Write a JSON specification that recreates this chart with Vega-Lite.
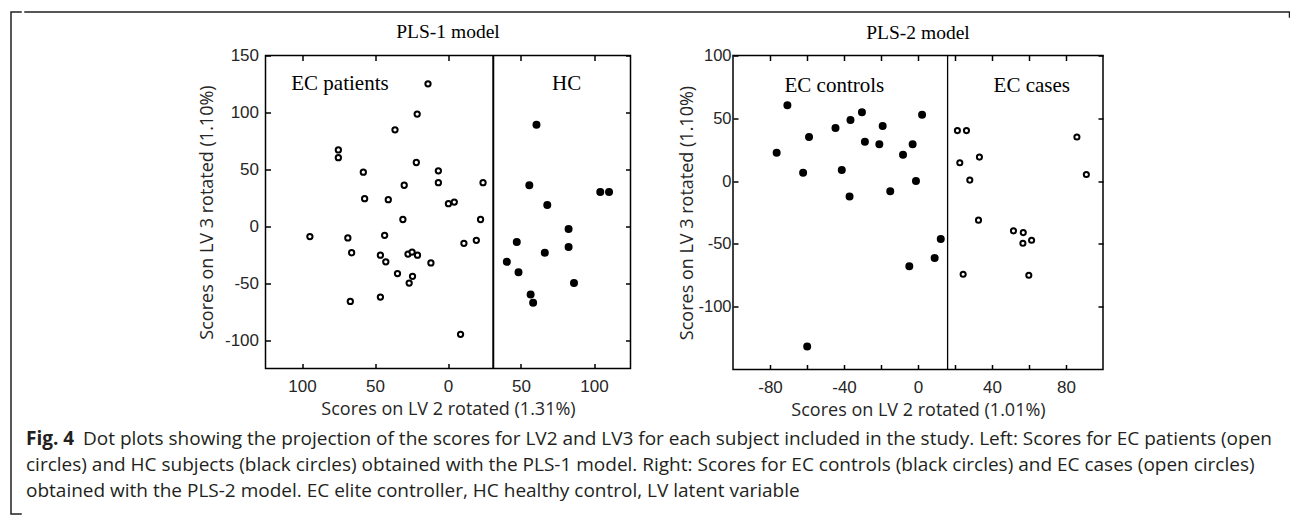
{
  "$schema": "https://vega.github.io/schema/vega-lite/v6.json",
  "padding": {"left": 9, "top": 10, "right": 0, "bottom": 0},
  "background": "white",
  "config": {
    "view": {"stroke": null},
    "axis": {"grid": false, "domain": false, "ticks": true, "tickSize": -5, "tickWidth": 1.5, "tickColor": "#000", "labelFont": "Liberation Sans", "labelFontSize": 17, "labelColor": "#262626", "titleFont": "Open Sans", "titleFontSize": 18, "titleFontWeight": "normal", "titleColor": "#262626"}
  },
  "datasets": {
    "pls1": [
      {"g": "EC patients", "x": -13.7, "y": 125.1}, {"g": "EC patients", "x": -21.1, "y": 98.5}, {"g": "EC patients", "x": -36.3, "y": 84.7},
      {"g": "EC patients", "x": -75.1, "y": 67}, {"g": "EC patients", "x": -75.1, "y": 60.2}, {"g": "EC patients", "x": -21.7, "y": 56},
      {"g": "EC patients", "x": -58, "y": 47.5}, {"g": "EC patients", "x": -6.6, "y": 48.7}, {"g": "EC patients", "x": -6.6, "y": 38.3},
      {"g": "EC patients", "x": -30, "y": 36}, {"g": "EC patients", "x": 24, "y": 38.3}, {"g": "EC patients", "x": -57.1, "y": 24.2},
      {"g": "EC patients", "x": -40.9, "y": 23.3}, {"g": "EC patients", "x": 0.3, "y": 19.8}, {"g": "EC patients", "x": 4.3, "y": 21.2},
      {"g": "EC patients", "x": -30.9, "y": 5.9}, {"g": "EC patients", "x": 22.3, "y": 5.9}, {"g": "EC patients", "x": -94.6, "y": -9.1},
      {"g": "EC patients", "x": -68.6, "y": -10.3}, {"g": "EC patients", "x": -43.4, "y": -8}, {"g": "EC patients", "x": 19.4, "y": -12.4},
      {"g": "EC patients", "x": 10.9, "y": -15}, {"g": "EC patients", "x": -66, "y": -23.3}, {"g": "EC patients", "x": -46.3, "y": -25.4},
      {"g": "EC patients", "x": -27.4, "y": -24.5}, {"g": "EC patients", "x": -24.6, "y": -22.7}, {"g": "EC patients", "x": -20.9, "y": -25.4},
      {"g": "EC patients", "x": -42.6, "y": -31.3}, {"g": "EC patients", "x": -11.7, "y": -32.2}, {"g": "EC patients", "x": -34.6, "y": -41.6},
      {"g": "EC patients", "x": -24.3, "y": -44}, {"g": "EC patients", "x": -26.6, "y": -49.9}, {"g": "EC patients", "x": -46.3, "y": -62.2},
      {"g": "EC patients", "x": -66.9, "y": -66.1}, {"g": "EC patients", "x": 8.6, "y": -95},
      {"g": "HC", "x": 60.6, "y": 89.1}, {"g": "HC", "x": 55.7, "y": 36}, {"g": "HC", "x": 104.3, "y": 30.1},
      {"g": "HC", "x": 110.3, "y": 30.1}, {"g": "HC", "x": 68, "y": 18.6}, {"g": "HC", "x": 82.6, "y": -2.4},
      {"g": "HC", "x": 47.1, "y": -13.9}, {"g": "HC", "x": 82.6, "y": -18.3}, {"g": "HC", "x": 66.3, "y": -23.3},
      {"g": "HC", "x": 40.3, "y": -31.3}, {"g": "HC", "x": 48.3, "y": -40.4}, {"g": "HC", "x": 86.3, "y": -49.9},
      {"g": "HC", "x": 56.6, "y": -59.9}, {"g": "HC", "x": 58.3, "y": -67.3}
    ],
    "pls2": [
      {"g": "EC controls", "x": -70.6, "y": 60.4}, {"g": "EC controls", "x": -76.4, "y": 22.6}, {"g": "EC controls", "x": -58.9, "y": 35.1},
      {"g": "EC controls", "x": -62.1, "y": 6.6}, {"g": "EC controls", "x": -44.6, "y": 42.3}, {"g": "EC controls", "x": -36.5, "y": 48.7},
      {"g": "EC controls", "x": -30.3, "y": 54.8}, {"g": "EC controls", "x": -41.2, "y": 8.8}, {"g": "EC controls", "x": -37, "y": -12.2},
      {"g": "EC controls", "x": -28.7, "y": 31.4}, {"g": "EC controls", "x": -19.1, "y": 43.9}, {"g": "EC controls", "x": -20.9, "y": 29.3},
      {"g": "EC controls", "x": -8.1, "y": 21}, {"g": "EC controls", "x": -2.9, "y": 29.3}, {"g": "EC controls", "x": 2.2, "y": 52.9},
      {"g": "EC controls", "x": -15, "y": -8}, {"g": "EC controls", "x": -1.1, "y": 0}, {"g": "EC controls", "x": 12.3, "y": -46},
      {"g": "EC controls", "x": 9, "y": -61.2}, {"g": "EC controls", "x": -4.7, "y": -67.8}, {"g": "EC controls", "x": -59.9, "y": -131.6},
      {"g": "EC cases", "x": 21.3, "y": 40.2}, {"g": "EC cases", "x": 26.2, "y": 40.2}, {"g": "EC cases", "x": 22.6, "y": 14.6},
      {"g": "EC cases", "x": 33.2, "y": 19.1}, {"g": "EC cases", "x": 28, "y": 0.8}, {"g": "EC cases", "x": 32.7, "y": -31.1},
      {"g": "EC cases", "x": 51.6, "y": -39.6}, {"g": "EC cases", "x": 56.9, "y": -41}, {"g": "EC cases", "x": 56.7, "y": -49.5},
      {"g": "EC cases", "x": 61.4, "y": -47.1}, {"g": "EC cases", "x": 24.4, "y": -74.2}, {"g": "EC cases", "x": 59.9, "y": -75},
      {"g": "EC cases", "x": 85.9, "y": 35.1}, {"g": "EC cases", "x": 91, "y": 5.3}
    ]
  },
  "spacing": 0,
  "hconcat": [
    {
      "width": 10, "height": 502,
      "data": {"values": []},
      "mark": "text",
      "view": {"stroke": "#231f20", "strokeWidth": 1.5, "strokeCap": "square", "strokeDash": [10, 502, 512], "fill": null}
    },
    {
      "spacing": 1.5,
      "vconcat": [
        {
          "width": 1264.5, "height": 5,
          "data": {"values": []},
          "mark": "text",
          "view": {"stroke": "#231f20", "strokeWidth": 1.5, "strokeCap": "square", "strokeDash": [1269.5, 1269.5], "fill": null}
        },
        {
          "spacing": 5,
          "vconcat": [
            {
              "spacing": 44.5,
              "hconcat": [
                {"width": 128, "height": 10, "data": {"values": []}, "mark": "text"},
                {
                  "width": 365, "height": 313,
                  "title": {"text": "PLS-1 model", "frame": "group", "anchor": "middle", "offset": 4, "font": "Liberation Serif", "fontSize": 19.5, "fontWeight": "normal", "color": "#000"},
                  "view": {"stroke": "#000", "strokeWidth": 1.5},
                  "resolve": {"axis": {"x": "independent", "y": "independent"}},
                  "layer": [
                    {
                      "data": {"values": [{"x": 31}]},
                      "mark": {"type": "rule", "color": "#000", "strokeWidth": 2},
                      "encoding": {
                        "x": {"field": "x", "type": "quantitative", "scale": {"domain": [-125, 125], "nice": false, "zero": false},
                          "axis": {"orient": "bottom", "values": [-100, -50, 0, 50, 100], "labelExpr": "abs(datum.value)", "labelPadding": 15, "title": "Scores on LV 2 rotated (1.31%)", "titlePadding": 6}}
                      }
                    },
                    {
                      "data": {"name": "pls1"},
                      "transform": [{"filter": "datum.g === 'EC patients'"}],
                      "mark": {"type": "point", "shape": "circle", "filled": true, "fill": "#fff", "stroke": "#000", "strokeWidth": 2, "size": 28, "opacity": 1},
                      "encoding": {
                        "x": {"field": "x", "type": "quantitative", "scale": {"domain": [-125, 125], "nice": false, "zero": false}, "axis": null},
                        "y": {"field": "y", "type": "quantitative", "scale": {"domain": [-125, 150], "nice": false, "zero": false},
                          "axis": {"orient": "left", "values": [-100, -50, 0, 50, 100, 150], "labelExpr": "toString(datum.value)", "labelPadding": 12, "title": "Scores on LV 3 rotated (1.10%)", "titlePadding": 8}}
                      }
                    },
                    {
                      "data": {"name": "pls1"},
                      "transform": [{"filter": "datum.g === 'HC'"}],
                      "mark": {"type": "point", "shape": "circle", "filled": true, "fill": "#000", "stroke": "#000", "strokeWidth": 2, "size": 36, "opacity": 1},
                      "encoding": {
                        "x": {"field": "x", "type": "quantitative", "scale": {"domain": [-125, 125], "nice": false, "zero": false}, "axis": null},
                        "y": {"field": "y", "type": "quantitative", "scale": {"domain": [-125, 150], "nice": false, "zero": false}, "axis": null}
                      }
                    },
                    {
                      "data": {"values": [{"x": -74, "y": 125, "label": "EC patients"}, {"x": 81.3, "y": 125, "label": "HC"}]},
                      "mark": {"type": "text", "font": "Liberation Serif", "fontSize": 21, "color": "#000", "align": "center", "baseline": "middle"},
                      "encoding": {
                        "x": {"field": "x", "type": "quantitative", "scale": {"domain": [-125, 125], "nice": false, "zero": false},
                          "axis": {"orient": "top", "values": [-100, -50, 0, 50, 100], "labels": false, "title": null}},
                        "y": {"field": "y", "type": "quantitative", "scale": {"domain": [-125, 150], "nice": false, "zero": false},
                          "axis": {"orient": "right", "values": [-100, -50, 0, 50, 100, 150], "labels": false, "title": null}},
                        "text": {"field": "label"}
                      }
                    }
                  ]
                },
                {
                  "width": 370, "height": 314,
                  "title": {"text": "PLS-2 model", "frame": "group", "anchor": "middle", "offset": 4, "font": "Liberation Serif", "fontSize": 19.5, "fontWeight": "normal", "color": "#000"},
                  "view": {"stroke": "#000", "strokeWidth": 1.5},
                  "resolve": {"axis": {"x": "independent", "y": "independent"}},
                  "layer": [
                    {
                      "data": {"values": [{"x": 16}]},
                      "mark": {"type": "rule", "color": "#000", "strokeWidth": 1.3},
                      "encoding": {
                        "x": {"field": "x", "type": "quantitative", "scale": {"domain": [-100, 100], "nice": false, "zero": false},
                          "axis": {"orient": "bottom", "values": [-80, -60, -40, -20, 0, 20, 40, 60, 80], "labelExpr": "datum.value % 40 === 0 ? toString(datum.value) : ''", "labelPadding": 15, "title": "Scores on LV 2 rotated (1.01%)", "titlePadding": 6}}
                      }
                    },
                    {
                      "data": {"name": "pls2"},
                      "transform": [{"filter": "datum.g === 'EC cases'"}],
                      "mark": {"type": "point", "shape": "circle", "filled": true, "fill": "#fff", "stroke": "#000", "strokeWidth": 2, "size": 26, "opacity": 1},
                      "encoding": {
                        "x": {"field": "x", "type": "quantitative", "scale": {"domain": [-100, 100], "nice": false, "zero": false}, "axis": null},
                        "y": {"field": "y", "type": "quantitative", "scale": {"domain": [-150, 100], "nice": false, "zero": false},
                          "axis": {"orient": "left", "values": [-100, -50, 0, 50, 100], "labelExpr": "toString(datum.value)", "labelPadding": 7, "labelFontSize": 16.5, "title": "Scores on LV 3 rotated (1.10%)", "titlePadding": 1.5}}
                      }
                    },
                    {
                      "data": {"name": "pls2"},
                      "transform": [{"filter": "datum.g === 'EC controls'"}],
                      "mark": {"type": "point", "shape": "circle", "filled": true, "fill": "#000", "stroke": "#000", "strokeWidth": 2, "size": 36, "opacity": 1},
                      "encoding": {
                        "x": {"field": "x", "type": "quantitative", "scale": {"domain": [-100, 100], "nice": false, "zero": false}, "axis": null},
                        "y": {"field": "y", "type": "quantitative", "scale": {"domain": [-150, 100], "nice": false, "zero": false}, "axis": null}
                      }
                    },
                    {
                      "data": {"values": [{"x": -45.2, "y": 75.8, "label": "EC controls"}, {"x": 61.5, "y": 75.8, "label": "EC cases"}]},
                      "mark": {"type": "text", "font": "Liberation Serif", "fontSize": 21, "color": "#000", "align": "center", "baseline": "middle"},
                      "encoding": {
                        "x": {"field": "x", "type": "quantitative", "scale": {"domain": [-100, 100], "nice": false, "zero": false},
                          "axis": {"orient": "top", "values": [-80, -60, -40, -20, 0, 20, 40, 60, 80], "labels": false, "title": null}},
                        "y": {"field": "y", "type": "quantitative", "scale": {"domain": [-150, 100], "nice": false, "zero": false},
                          "axis": {"orient": "right", "values": [-100, -50, 0, 50, 100], "labels": false, "title": null}},
                        "text": {"field": "label"}
                      }
                    }
                  ]
                }
              ]
            },
            {
              "width": 1250, "height": 78,
              "layer": [
                {
                  "data": {"values": [{"line": 1, "text": "Fig. 4"}]},
                  "mark": {"type": "text", "font": "Open Sans", "fontSize": 19, "fontWeight": "bold", "color": "#231f20", "align": "left", "baseline": "middle", "dx": 1},
                  "encoding": {
                    "x": {"datum": 0, "type": "quantitative", "scale": {"domain": [0, 1]}, "axis": null},
                    "y": {"field": "line", "type": "ordinal", "scale": {"domain": [1, 2, 3]}, "axis": null},
                    "text": {"field": "text"}
                  }
                },
                {
                  "data": {"values": [{"line": 1, "text": "Dot plots showing the projection of the scores for LV2 and LV3 for each subject included in the study. Left: Scores for EC patients (open"}]},
                  "mark": {"type": "text", "font": "Open Sans", "fontSize": 19, "color": "#231f20", "align": "left", "baseline": "middle", "dx": 58},
                  "encoding": {
                    "x": {"datum": 0, "type": "quantitative", "scale": {"domain": [0, 1]}, "axis": null},
                    "y": {"field": "line", "type": "ordinal", "scale": {"domain": [1, 2, 3]}, "axis": null},
                    "text": {"field": "text"}
                  }
                },
                {
                  "data": {"values": [
                    {"line": 2, "text": "circles) and HC subjects (black circles) obtained with the PLS-1 model. Right: Scores for EC controls (black circles) and EC cases (open circles)"},
                    {"line": 3, "text": "obtained with the PLS-2 model. EC elite controller, HC healthy control, LV latent variable"}
                  ]},
                  "mark": {"type": "text", "font": "Open Sans", "fontSize": 19, "color": "#231f20", "align": "left", "baseline": "middle", "dx": 1},
                  "encoding": {
                    "x": {"datum": 0, "type": "quantitative", "scale": {"domain": [0, 1]}, "axis": null},
                    "y": {"field": "line", "type": "ordinal", "scale": {"domain": [1, 2, 3]}, "axis": null},
                    "text": {"field": "text"}
                  }
                }
              ]
            }
          ]
        }
      ]
    }
  ]
}
